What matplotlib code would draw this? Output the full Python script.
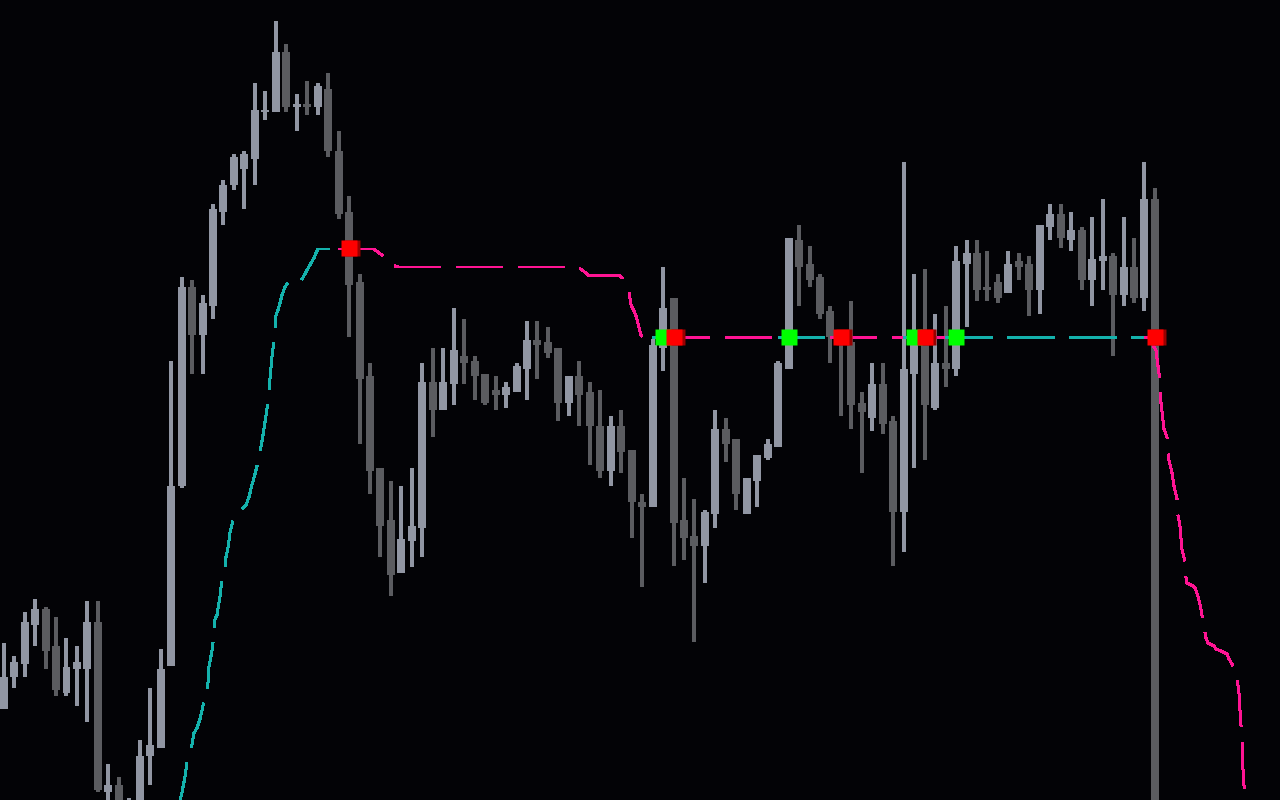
import numpy as np
import matplotlib
matplotlib.use('Agg')
import matplotlib.pyplot as plt

# candle data (price in points), one entry per bar
opens = [91, 123, 136, 175, 191, 154, 107, 131, 131, 178,
         8, 15, -20, -10, 44, 52, 134, 314, 513, 465,
         494, 588, 615, 631, 641, 688, 688, 748, 693, 696,
         693, 711, 649, 588, 518, 424, 332, 280, 227, 259,
         272, 418, 390, 416, 444, 439, 426, 410, 405, 408,
         431, 460, 458, 452, 397, 424, 408, 374, 329, 374,
         350, 298, 293, 452, 502, 280, 264, 254, 286, 371,
         361, 286, 319, 342, 353, 431, 560, 536, 523, 489,
         463, 458, 397, 382, 416, 379, 288, 426, 465, 392,
         437, 431, 536, 547, 513, 518, 507, 539, 536, 510,
         573, 586, 560, 570, 520, 539, 544, 505, 533, 502,
         601]
highs = [157, 144, 188, 201, 193, 183, 162, 154, 199, 199,
         36, 23, 2, 60, 112, 151, 439, 523, 520, 505,
         596, 620, 646, 649, 717, 709, 779, 756, 706, 719,
         717, 727, 669, 604, 526, 437, 332, 319, 314, 332,
         437, 452, 452, 492, 481, 444, 426, 424, 418, 437,
         479, 479, 473, 452, 424, 439, 418, 410, 384, 390,
         350, 306, 461, 533, 502, 322, 301, 290, 390, 382,
         361, 322, 345, 361, 439, 562, 575, 554, 526, 494,
         467, 499, 408, 437, 437, 384, 638, 526, 531, 486,
         494, 554, 560, 560, 549, 526, 549, 547, 544, 575,
         596, 596, 588, 573, 583, 601, 547, 583, 562, 638,
         612]
lows = [91, 112, 123, 154, 131, 104, 104, 94, 78, 8,
        -5, -15, -30, -15, 15, 52, 134, 312, 426, 426,
        481, 575, 610, 591, 615, 680, 688, 688, 669, 685,
        685, 643, 581, 463, 356, 306, 243, 204, 227, 233,
        243, 363, 390, 395, 416, 400, 395, 390, 392, 408,
        400, 421, 442, 379, 384, 374, 335, 322, 314, 327,
        262, 213, 293, 429, 234, 240, 158, 217, 272, 338,
        290, 286, 293, 340, 353, 431, 494, 513, 481, 437,
        384, 371, 327, 369, 366, 234, 248, 332, 340, 390,
        413, 424, 473, 499, 499, 497, 507, 520, 484, 486,
        560, 552, 549, 510, 494, 510, 444, 494, 497, 489,
        -40]
closes = [123, 138, 178, 191, 149, 110, 133, 138, 178, 10,
          15, -10, -5, 44, 55, 131, 314, 513, 465, 497,
          591, 615, 643, 646, 690, 690, 748, 693, 696, 693,
          714, 649, 586, 515, 421, 329, 274, 225, 261, 274,
          418, 390, 418, 450, 437, 424, 397, 405, 413, 434,
          460, 455, 447, 397, 424, 405, 374, 329, 374, 348,
          298, 293, 455, 492, 277, 262, 254, 288, 371, 356,
          306, 322, 345, 356, 437, 562, 533, 520, 486, 463,
          456, 395, 388, 416, 376, 288, 431, 465, 395, 437,
          431, 539, 547, 510, 510, 502, 536, 533, 510, 575,
          586, 562, 570, 520, 541, 544, 505, 533, 502, 601,
          -30]

# trend line (bar position, price)
line_t = [16.85, 17.04, 17.32, 17.51, 17.99, 18.18, 18.47, 18.76, 19.14, 19.43,
          19.62, 19.90, 20.09, 20.19, 20.38, 20.67, 20.86, 21.15, 21.24, 21.43,
          21.62, 21.91, 22.39, 23.15, 23.44, 23.72, 24.01, 24.39, 24.68, 24.87,
          25.16, 25.35, 25.44, 25.64, 25.92, 26.02, 26.21, 26.40, 26.59, 26.88,
          27.16, 28.12, 28.41, 29.36, 29.65, 29.84, 30.03, 35.38, 35.67, 35.95,
          36.34, 37.10, 37.67, 54.87, 55.64, 55.92, 58.89, 59.08, 59.27, 59.56,
          59.75, 59.94, 60.22, 60.42, 60.61, 60.89, 61.08, 109.53, 109.91, 110.10,
          110.39, 110.48, 110.58, 110.86, 111.15, 111.25, 111.34, 111.63, 111.82, 112.11,
          112.20, 112.39, 112.58, 112.87, 112.97, 113.06, 113.63, 113.83, 114.11, 114.40,
          114.59, 114.88, 115.07, 115.64, 115.83, 116.31, 116.88, 117.08, 117.36, 117.65,
          117.84, 118.03, 118.13, 118.32, 118.32, 118.41, 118.60]
line_v = [0, 8, 23, 38, 55, 67, 72, 81, 99, 103,
          134, 149, 165, 181, 185, 204, 222, 227, 243, 252,
          267, 280, 287, 295, 303, 315, 326, 342, 359, 371,
          392, 405, 421, 444, 467, 485, 490, 497, 505, 513,
          517, 517, 519, 537, 542, 547, 551, 551, 548.5, 546.5,
          543, 535, 533, 533, 527, 524.5, 524.5, 522, 518, 514,
          508, 495, 489, 484, 476, 465, 462.5, 462, 453, 450,
          426, 410, 397, 371, 363, 348, 340, 327, 314, 301,
          285, 274, 251, 238, 222, 217, 214, 212, 204, 191,
          178, 162, 157, 154, 151, 149, 146, 141, 136, 128,
          123, 107, 89, 60, 44, 31, 0]

# signal arrows
bull_sig = [63, 75, 87, 91]
bull_sig_v = [463, 463, 463, 463]
bear_sig = [33, 64, 80, 88, 110]
bear_sig_v = [552, 463, 463, 463, 463]

BG = '#030306'
UP_COL = '#9196a3'
DN_COL = '#5b5c60'
BULL_LINE = '#14b2ac'
BEAR_LINE = '#ff1493'

plt.rcParams['lines.scale_dashes'] = False

fig = plt.figure(figsize=(12.8, 8), dpi=100, facecolor=BG)
ax = fig.add_axes([0, 0, 1, 1])
ax.set_facecolor(BG)

o = np.array(opens)
c = np.array(closes)
x = np.arange(len(o))
col = np.where(c >= o, UP_COL, DN_COL)

ax.vlines(x, lows, highs, colors=col, lw=1.6, antialiased=False, zorder=1)
ax.bar(x, np.maximum(np.abs(c - o), 1), bottom=np.minimum(o, c), width=0.764,
       color=col, antialiased=False, zorder=2)

# colour the line by trend: segment ending on bar k follows the state at bar k
t = np.array(line_t)
v = np.array(line_v)
events = sorted([(b, 1) for b in bull_sig] + [(b, -1) for b in bear_sig])
edges = [line_t[0]] + [b - 1 for b, _ in events] + [line_t[-1]]
states = [1] + [s for _, s in events]
dash = (33.8, 11.5)
for i, s in enumerate(states):
    a, b = edges[i], edges[i + 1]
    inner = (t > a) & (t < b)
    seg_t = np.concatenate([[a], t[inner], [b]])
    seg_v = np.concatenate([[np.interp(a, t, v)], v[inner], [np.interp(b, t, v)]])
    off = 6.0 if i == 0 else 0
    ax.plot(seg_t, seg_v, color=BULL_LINE if s == 1 else BEAR_LINE, lw=1.7,
            linestyle=(off, dash), antialiased=False, zorder=3)

# signal squares
ax.plot(np.array(bear_sig) + 0.3, bear_sig_v, 's', ms=11.5, color='#9a0000',
        mec='none', zorder=4)
ax.plot(bull_sig, bull_sig_v, 's', ms=11.5, color='#00ff00', mec='none', zorder=5)
ax.plot(bear_sig, bear_sig_v, 's', ms=11.5, color='#ff0000', mec='none', zorder=6)

ax.set_xlim(-0.354, 121.95)
ax.set_ylim(0, 800)
ax.set_xticks([])
ax.set_yticks([])
for sp in ax.spines.values():
    sp.set_visible(False)

fig.savefig('out.png', dpi=100, facecolor=BG)
